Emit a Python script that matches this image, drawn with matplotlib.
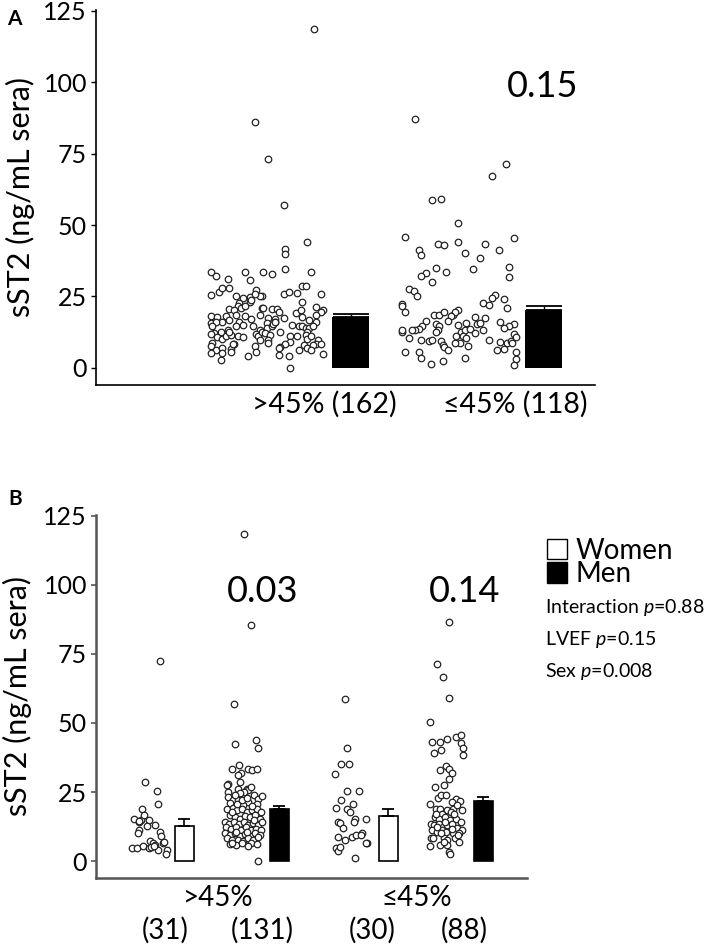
import matplotlib.pyplot as plt
from matplotlib.patches import Patch

plt.rcParams['font.family'] = ['Lato', 'DejaVu Sans']
plt.rcParams['mathtext.fontset'] = 'custom'
plt.rcParams['mathtext.rm'] = 'Lato'
plt.rcParams['mathtext.it'] = 'Lato:italic'

# ---------------- data ----------------
# Panel A: sST2 by LVEF group; jitter = horizontal spread
a_gt45_vals = [118.5, 86, 73, 57, 44, 41.5, 40, 34.5,
               33.7, 32, 33.4, 33.5, 32.7, 33.6, 31, 30.7,
               25.5, 26.5, 28.1, 27.8, 27.1, 25.2, 25, 25.8, 26.7, 26.1, 28.7, 28.5, 25.9, 25,
               24.4, 24.7, 25.9, 22.6, 21.7, 22.9, 23.2, 23.6,
               20.5, 20.3, 20.8, 21.1, 20.9, 20.5, 20.5, 19.4, 19.1, 20.3, 21.2, 20.3, 19.4, 21.5,
               18.3, 17.7, 18, 18.5, 18, 17, 18.5, 17.4, 17, 17.4, 17.7, 18.5, 16.8, 16.2, 16.8,
               16.2, 15.6, 15.9, 15.9, 15.6, 16.2,
               14.5, 12.7, 13.3, 14.5, 15, 14.5, 13.3, 13.9, 14.5, 15.4, 16.2, 12.7, 15, 14.8,
               14.5, 13.9, 13.9, 14.5, 12.7, 12.1,
               11.9, 10.7, 10, 11, 11.5, 11, 10.7, 11.9, 11, 12.4, 12.1, 11.5, 9.6, 9.8, 11.2,
               8.9, 11, 11.5, 10, 11, 9.8, 8.4, 12.4, 8.6,
               7.5, 6.1, 6.9, 6.5, 8.4, 8.3, 7.5, 8.6, 8.3, 7.2, 8.0, 6.9, 7.9, 8.2, 5.1, 5.1,
               5.4, 5.7, 6.9, 6.3, 6.3,
               2.8, 4.2, 4.5, 4.2, 4.8, 0.1]
a_gt45_jit = [0.29, -0.06, 0.02, 0.11, 0.25, 0.12, 0.12, 0.12,
              -0.32, -0.29, -0.12, -0.01, 0.04, 0.27, -0.22, -0.09,
              -0.32, -0.27, -0.25, -0.21, -0.05, -0.02, -0.03, 0.11, 0.14, 0.19, 0.22, 0.24, 0.33, -0.17,
              -0.13, -0.09, -0.06, -0.15, -0.16, -0.09, 0.22, -0.08,
              -0.21, -0.18, -0.14, -0.02, -0.01, 0.04, 0.07, 0.08, 0.18, 0.21, 0.30, 0.34, 0.33, -0.12,
              -0.32, -0.28, -0.23, -0.17, -0.12, -0.08, -0.03, 0.02, 0.06, 0.11, 0.22, 0.30, 0.26, -0.25, -0.21,
              -0.15, 0.01, 0.06, 0.30, -0.32, -0.29,
              -0.31, -0.26, -0.22, -0.17, -0.13, -0.07, -0.03, 0.01, 0.04, 0.05, 0.06, 0.09, 0.16, 0.20,
              0.22, 0.24, 0.26, 0.28, 0.25, -0.30,
              -0.32, -0.28, -0.25, -0.23, -0.20, -0.16, -0.13, -0.05, -0.04, -0.02, 0.0, 0.03, 0.02, -0.03, 0.15,
              0.15, 0.19, 0.24, 0.25, 0.27, 0.31, 0.30, -0.21, -0.31,
              -0.32, -0.29, -0.25, -0.20, -0.18, -0.19, -0.06, 0.02, 0.12, 0.09, 0.23, 0.25, 0.28, 0.33, -0.32, -0.25,
              -0.20, -0.05, 0.08, 0.20, 0.27,
              -0.26, -0.10, 0.08, 0.14, 0.34, 0.15]

a_le45_vals = [87.2, 71.5, 67.2, 58.8, 59.1, 50.6, 45.7, 45.4, 43.2, 43.0, 44.1, 43.4,
               41.3, 39.4, 41.2, 40.1, 38.6, 35, 33.2, 32, 33.4, 34.5, 35.2, 31.7, 30,
               27.6, 26.9, 25.2, 25.4, 24.3, 22.7, 21.9, 24, 21.1, 22.3, 21.5, 19.5,
               18.5, 18.5, 19.4, 18.5, 20.3, 19.5, 18, 16.5, 15, 15.6, 17.7, 17.3, 15.4, 15.6,
               16, 15.4, 14.5, 13.9, 16.4, 14.8, 13.6, 13.1, 13.1, 12.7, 13.1, 15.4, 14.8,
               13.1, 12.4, 12.7, 13.3, 13.5, 12.1, 13.3, 11, 11, 10.4, 8.6, 7.5, 10.4, 9.8,
               9.4, 9.8, 9.4, 8, 7.2, 6.3, 8.6, 9.8, 8.9, 8.6, 9.3, 11.9, 10.7, 8.6, 6.3,
               6.5, 5.7, 5.7, 5.4, 3.4, 1.4, 2.4, 3.6, 3.1, 1.0]
a_le45_jit = [-0.25, 0.28, 0.20, -0.15, -0.10, 0.0, -0.31, 0.33, -0.12, -0.08, 0.0, 0.16,
              -0.23, -0.22, 0.24, 0.04, 0.13, -0.13, -0.19, -0.22, -0.07, 0.09, 0.30, 0.30, -0.15,
              -0.29, -0.26, -0.24, 0.22, 0.20, 0.15, 0.18, 0.27, 0.29, -0.33, -0.33, -0.31,
              -0.14, -0.11, -0.08, -0.03, 0.0, -0.02, -0.04, -0.06, 0.0, 0.05, 0.10, 0.16, 0.11, 0.13,
              0.25, 0.33, 0.30, 0.27, -0.19, -0.21, -0.23, -0.25, -0.27, -0.33, -0.33, -0.13, -0.11,
              -0.12, -0.13, 0.02, 0.04, 0.07, 0.10, 0.15, -0.01, 0.03, 0.05, 0.01, 0.06, -0.29, -0.22,
              -0.17, -0.15, -0.10, -0.09, -0.08, -0.06, -0.02, 0.18, 0.25, 0.29, 0.31, 0.33, 0.34, 0.32, 0.23,
              0.27, 0.34, -0.31, -0.23, -0.22, -0.16, -0.09, 0.04, 0.34, 0.33]

a_labels = ['>45% (162)', '\u226445% (118)']
a_means = [17.9, 20.3]
a_err = [1.0, 1.4]
a_pval = '0.15'

# Panel B: same groups split by sex
b_w_gt45_vals = [72.5, 28.6, 25.2, 20.8, 19, 15.4, 15, 14.2, 16.6, 14.8, 13.2, 12.7, 11.2, 10.2,
                 10.6, 9, 4.6, 4.9, 5.5, 4.8, 7.2, 6.4, 6, 3.95, 6.6, 7, 4.2, 2.5, 5.2, 5.5, 14.5]
b_w_gt45_jit = [0.11, -0.04, 0.08, 0.09, -0.07, -0.15, -0.08, -0.10, -0.05, 0.0, 0.06, -0.02, -0.10, -0.11,
                0.11, 0.12, -0.17, -0.12, -0.06, 0.0, 0.01, 0.04, 0.06, 0.09, 0.14, 0.15, 0.18, 0.17, 0.02, 0.05, -0.10]

b_m_gt45_vals = [118.5, 85.5, 56.9, 42.5, 44, 40.9, 0.1,
                 33.2, 34.7, 33.5, 32.9, 33.5, 31.9, 31,
                 28, 27.4, 28.6, 26.2, 26.2, 25.6, 25, 26.8, 24.7, 25,
                 23.2, 22, 21.1, 22, 21.4, 23.8, 22.6, 23.5, 20.8, 20.2,
                 19, 19.4, 18.4, 18.7, 17.8, 18.4, 18.7, 17.8, 16.6, 16, 15.4, 16.3, 15.8, 16.6, 15.4,
                 14.2, 13.6, 14.2, 13.4, 14.2, 13, 13.8, 13, 14.2,
                 12.2, 11.8, 12.2, 11.4, 12.2, 11.2, 11.8, 11.2,
                 10, 9.4, 10, 9, 9.8, 9, 10, 9.4,
                 8.2, 7.6, 7.8, 7.3, 8.2, 7.6, 8.6,
                 6.2, 5.8, 6.4, 6.6, 6.2, 6.6, 5.4,
                 17.8, 20.8, 19.9, 22, 23, 23.8, 14.8, 10.6, 10.6]
b_m_gt45_jit = [0.0, 0.07, -0.10, -0.09, 0.12, 0.14, 0.14,
                -0.12, -0.05, 0.04, 0.08, 0.13, -0.03, -0.06,
                -0.16, -0.17, -0.04, -0.06, 0.03, 0.04, 0.0, 0.07, -0.04, -0.16,
                -0.16, -0.11, -0.14, -0.06, 0.04, 0.10, 0.14, 0.18, 0.13, -0.01,
                -0.17, -0.11, -0.07, -0.02, 0.03, 0.08, 0.13, 0.17, -0.14, -0.09, -0.04, 0.01, 0.06, 0.11, 0.16,
                -0.19, -0.15, -0.10, -0.05, 0.0, 0.04, 0.09, 0.14, 0.18,
                -0.18, -0.13, -0.08, -0.03, 0.02, 0.07, 0.12, 0.17,
                -0.19, -0.14, -0.09, -0.04, 0.01, 0.06, 0.11, 0.16,
                -0.17, -0.12, -0.06, -0.01, 0.04, 0.09, 0.14,
                -0.14, -0.08, -0.02, 0.07, 0.13, -0.12, 0.04,
                -0.12, -0.07, 0.08, -0.02, 0.03, -0.09, 0.10, -0.08, 0.03]

b_w_le45_vals = [58.7, 41.1, 35, 35.3, 31.6, 25.3, 25.3, 19.4, 18.7, 17.8, 15.4, 14.2, 13.8, 14.2,
                 8.8, 9.4, 8.8, 4.6, 3.7, 5.2, 1.0, 15.4, 10, 9.4, 6.4, 6.6, 12, 20.5, 7.5, 22]
b_w_le45_jit = [-0.08, -0.06, -0.12, -0.04, -0.18, -0.06, 0.06, -0.17, -0.06, -0.03, 0.02, -0.15, -0.13, 0.01,
                -0.01, 0.03, -0.15, -0.17, -0.15, -0.13, 0.02, 0.13, 0.09, 0.08, 0.14, 0.13, -0.10, 0.0, -0.08, -0.12]

b_m_le45_vals = [86.7, 71.3, 66.8, 59, 50.3, 43.2, 43.1, 44.2, 45.1, 45.6, 42.8, 41.1, 38.5, 39.2, 40.1,
                 34.5, 33.1, 33.4, 32, 29.8, 26.7, 27.6, 22.9, 24.1, 23.8, 22.4, 21.8, 21.4, 20.5,
                 18.9, 18.8, 18.6, 19, 18.5, 17.2, 17.8, 20.2, 16, 15.4, 15.8, 14.8, 15.4, 14.2,
                 13.4, 13, 13.6, 12.4, 12.9, 13.4, 12, 11.2, 11.2, 10.6, 11.4, 10.6, 10.2, 10,
                 8.2, 8.4, 8.5, 7.8, 8.5, 9.4, 5.5, 5.8, 6, 3.4, 2.5, 14, 17.2, 17.2, 10, 11.8,
                 12.4, 7, 7]
b_m_le45_jit = [0.01, -0.11, -0.05, 0.01, -0.18, -0.16, -0.08, -0.01, 0.08, 0.13, 0.13, 0.15, 0.15, -0.14, -0.07,
                -0.02, -0.08, 0.01, 0.04, 0.01, -0.13, -0.04, -0.10, -0.07, -0.02, 0.08, 0.12, 0.04, -0.18,
                -0.12, -0.08, -0.01, 0.05, 0.14, -0.06, 0.03, 0.09, -0.13, -0.09, -0.03, 0.02, 0.08, 0.13,
                -0.17, -0.14, -0.09, -0.05, -0.01, 0.04, 0.09, 0.14, -0.16, -0.11, -0.06, -0.02, 0.05, 0.11,
                -0.17, -0.15, -0.04, -0.01, 0.07, 0.10, -0.18, -0.08, -0.01, 0.01, 0.02, -0.03, -0.12, 0.06, -0.07, 0.04,
                -0.11, 0.11, -0.04]

b_group_labels = ['>45%', '\u226445%']
b_count_labels = ['(31)', '(131)', '(30)', '(88)']
b_means = [12.6, 18.8, 16.2, 21.6]
b_err = [2.6, 1.1, 2.5, 1.5]
b_pvals = ['0.03', '0.14']
b_stats = ['Interaction $p$=0.88', 'LVEF $p$=0.15', 'Sex $p$=0.008']

# ---------------- figure ----------------
fig = plt.figure(figsize=(7.09, 9.51), dpi=100)
axA = fig.add_axes([0.1354, 0.5952, 0.7038, 0.3943])
axB = fig.add_axes([0.1354, 0.0768, 0.6079, 0.3817])

pt_style = dict(s=22, facecolors='white', edgecolors='#222222', linewidths=0.9, zorder=3)

# --- Panel A ---
a_pts_pos = [1.69, 3.62]
a_bar_pos = [2.55, 4.48]
jit_scale = 1.7
for cx, vals, jit in zip(a_pts_pos, [a_gt45_vals, a_le45_vals], [a_gt45_jit, a_le45_jit]):
    axA.scatter([cx + j * jit_scale for j in jit], vals, **pt_style)
axA.bar(a_bar_pos, a_means, width=0.37, color='black', zorder=2)
axA.errorbar(a_bar_pos, a_means, yerr=[[0, 0], a_err], fmt='none', ecolor='black',
             elinewidth=1.0, capsize=13, capthick=1.3, zorder=2)
axA.text(4.47, 94.9, a_pval, fontsize=26, ha='center', va='baseline')

axA.set_xlim(0, 4.99)
axA.set_ylim(-6, 125.3)
axA.set_xticks([2.28, 4.19])
axA.set_xticklabels(a_labels, fontsize=20.5)
axA.tick_params(axis='x', length=0, pad=4)
axA.set_yticks([0, 25, 50, 75, 100, 125])
axA.tick_params(axis='y', labelsize=18, length=3.5, width=1, pad=3)
axA.set_ylabel('sST2 (ng/mL sera)', fontsize=22)
axA.yaxis.set_label_coords(-0.122, 0.5)
for s in ['top', 'right']:
    axA.spines[s].set_visible(False)
for s in ['left', 'bottom']:
    axA.spines[s].set_linewidth(1.2)

# --- Panel B ---
b_centers = [0.71, 1.66, 2.75, 3.70]
b_pts_pos = [c - 0.18 for c in b_centers]
b_bar_pos = [c + 0.175 for c in b_centers]
b_sets = [(b_w_gt45_vals, b_w_gt45_jit), (b_m_gt45_vals, b_m_gt45_jit),
          (b_w_le45_vals, b_w_le45_jit), (b_m_le45_vals, b_m_le45_jit)]
for cx, (vals, jit) in zip(b_pts_pos, b_sets):
    axB.scatter([cx + j for j in jit], vals, **pt_style)
b_colors = ['white', 'black', 'white', 'black']
axB.bar(b_bar_pos, b_means, width=0.185, color=b_colors, edgecolor='black', linewidth=1.2, zorder=2)
axB.errorbar(b_bar_pos, b_means, yerr=[[0] * 4, b_err], fmt='none', ecolor='black',
             elinewidth=1.2, capsize=4.3, capthick=1.3, zorder=2)
axB.text(1.67, 93.9, b_pvals[0], fontsize=26, ha='center', va='baseline')
axB.text(3.69, 93.9, b_pvals[1], fontsize=26, ha='center', va='baseline')

axB.set_xlim(0, 4.31)
axB.set_ylim(-6.1, 125.3)
axB.set_xticks([(b_centers[0] + b_centers[1]) / 2 + 0.04, (b_centers[2] + b_centers[3]) / 2 - 0.02])
axB.set_xticklabels(b_group_labels, fontsize=20)
axB.set_xticks([0.69, 1.66, 2.76, 3.68], minor=True)
axB.set_xticklabels(b_count_labels, minor=True, fontsize=20)
axB.tick_params(axis='x', which='major', length=0, pad=5)
axB.tick_params(axis='x', which='minor', length=0, pad=28)
axB.set_yticks([0, 25, 50, 75, 100, 125])
axB.tick_params(axis='y', labelsize=18, length=3.5, width=1.2, color='#555555', pad=3)
axB.set_ylabel('sST2 (ng/mL sera)', fontsize=22)
axB.yaxis.set_label_coords(-0.148, 0.5)
for s in ['top', 'right']:
    axB.spines[s].set_visible(False)
for s in ['left', 'bottom']:
    axB.spines[s].set_linewidth(1.8)
    axB.spines[s].set_color('#555555')

handles = [Patch(facecolor='white', edgecolor='black', linewidth=1.0, label='Women'),
           Patch(facecolor='black', edgecolor='black', label='Men')]
fig.legend(handles=handles, loc='upper left', bbox_to_anchor=(547 / 709, 1 - 538 / 951),
           frameon=False, fontsize=20, handlelength=0.72, handleheight=0.75,
           handletextpad=0.3, labelspacing=-0.1, borderpad=0, borderaxespad=0)
for i, t in enumerate(b_stats):
    fig.text(545 / 709, 1 - (613 + 32 * i) / 951, t, fontsize=14, ha='left', va='baseline')

fig.text(7 / 709, 1 - 25 / 951, 'A', fontsize=15, fontweight='bold', va='baseline')
fig.text(8 / 709, 1 - 505 / 951, 'B', fontsize=15, fontweight='bold', va='baseline')

fig.savefig('out.png', dpi=100)
